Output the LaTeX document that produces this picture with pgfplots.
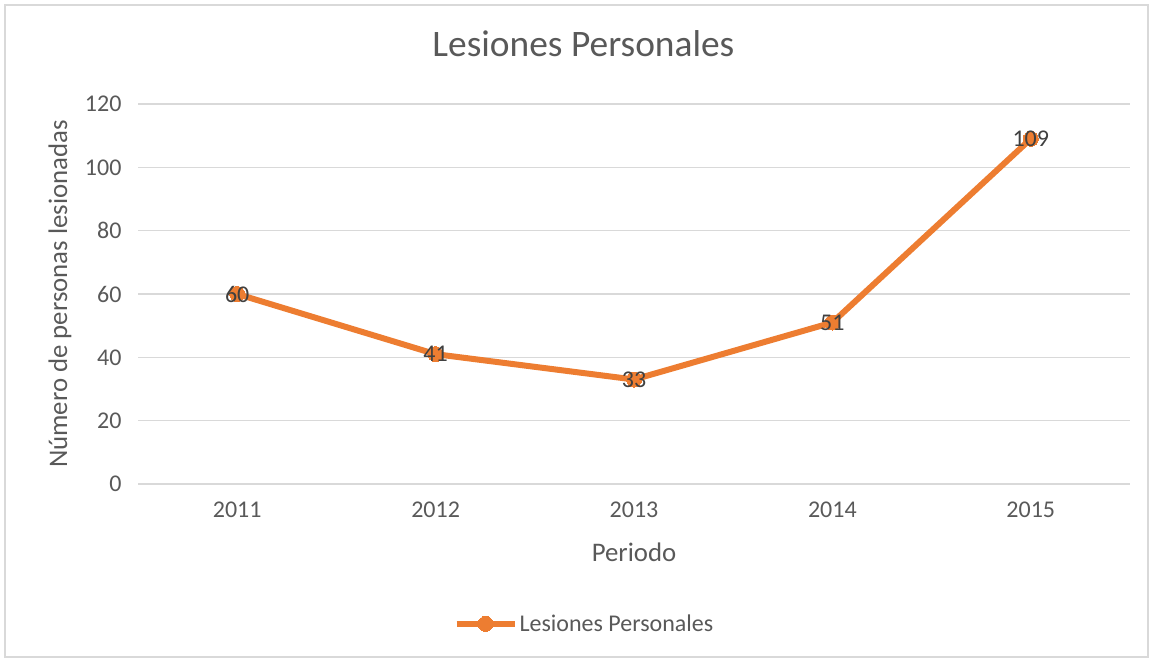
\documentclass[border=0pt]{standalone}
\usepackage{pgfplots}
\pgfplotsset{compat=1.18}
\usepackage{fontspec}
\setmainfont{Carlito}
\definecolor{orng}{HTML}{ED7D31}
\definecolor{gridc}{HTML}{D9D9D9}
\definecolor{txt}{HTML}{595959}
\definecolor{lbl}{HTML}{404040}
\begin{document}
\begin{tikzpicture}[x=1pt,y=1pt]
\useasboundingbox (0,0) rectangle (1153,662);
\draw[gridc, line width=2pt] (5,5) rectangle (1148,657);
\begin{axis}[
  at={(138pt,178pt)}, anchor=south west,
  scale only axis, width=992pt, height=380pt,
  xmin=-0.5, xmax=4.5, ymin=0, ymax=120,
  xtick={0,1,2,3,4}, xticklabels={2011,2012,2013,2014,2015},
  ytick={0,20,40,60,80,100,120},
  ymajorgrids, grid style={gridc, line width=1.6pt},
  axis line style={draw=none},
  major tick length=0pt,
  ticklabel style={font=\fontsize{24}{28}\selectfont, text=txt},
  /pgf/number format/assume math mode=true,
  yticklabel style={xshift=-13pt},
  xticklabel style={yshift=-14pt},
  title={Lesiones Personales},
  title style={at={(0.449,1.142)}, anchor=center, font=\fontsize{37.4}{42}\selectfont, text=txt},
  ylabel={Número de personas lesionadas},
  ylabel style={at={(-0.0786,0.5)}, anchor=center, rotate=0, font=\fontsize{26.8}{31}\selectfont, text=txt},
  xlabel={Periodo},
  xlabel style={at={(0.5,-0.179)}, anchor=center, font=\fontsize{26.8}{31}\selectfont, text=txt},
  legend style={at={(0.45,-0.368)}, anchor=center, draw=none, fill=none,
    font=\fontsize{24}{28}\selectfont, text=txt, inner sep=0pt},
  legend image code/.code={\draw[mark repeat=2,mark phase=2] plot coordinates {(0pt,0pt) (29pt,0pt) (58pt,0pt)};},
  legend cell align=left,
  clip=false,
]
\addplot[orng, line width=6pt, mark=*, mark size=7.5pt, mark options={fill=orng, draw=orng, line width=0pt},
  nodes near coords, nodes near coords style={anchor=center, text=lbl, font=\fontsize{24}{28}\selectfont}]
  coordinates {(0,60) (1,41) (2,33) (3,51) (4,109)};
\addlegendentry{Lesiones Personales}
\end{axis}
\end{tikzpicture}
\end{document}
